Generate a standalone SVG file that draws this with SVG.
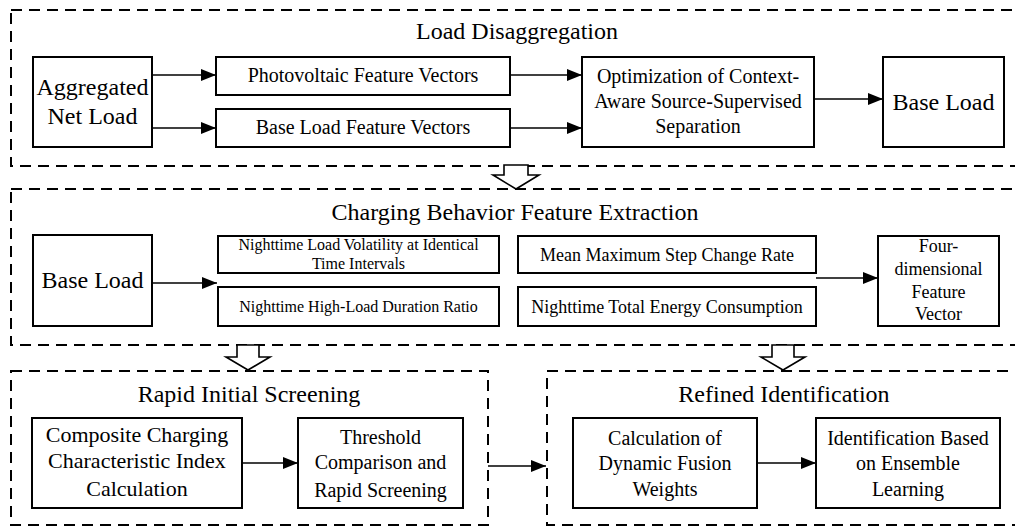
<svg xmlns="http://www.w3.org/2000/svg" width="1015" height="529" viewBox="0 0 1015 529">
<defs>
<style>
text{font-family:"Liberation Serif","Times New Roman",serif;fill:#000;text-anchor:middle}
.box{fill:#fff;stroke:#000;stroke-width:2}
.grp{fill:none;stroke:#000;stroke-width:2;stroke-dasharray:11 7}
.con{stroke:#000;stroke-width:1.6;fill:none}
.hollow{fill:#fff;stroke:#000;stroke-width:1.6;stroke-linejoin:miter}
.t24{font-size:24px}.t22{font-size:22px}.t20{font-size:20px}.t18{font-size:18px}.t16{font-size:16px}
</style>
<marker id="ah" markerWidth="15" markerHeight="12" refX="15" refY="6" orient="auto" markerUnits="userSpaceOnUse"><path d="M0,0 L15,6 L0,12 z" fill="#000"/></marker>
</defs>
<rect width="1015" height="529" fill="#fff"/>

<g id="groups">
<rect class="grp" x="11" y="10" width="1012" height="156"/>
<rect class="grp" x="11" y="189" width="1012" height="156"/>
<rect class="grp" x="11" y="371" width="477" height="154"/>
<rect class="grp" x="547" y="371" width="476" height="154"/>
<text class="t24" x="517" y="39">Load Disaggregation</text>
<text class="t24" x="515" y="220">Charging Behavior Feature Extraction</text>
<text class="t24" x="249" y="402">Rapid Initial Screening</text>
<text class="t24" x="784" y="402">Refined Identification</text>
</g>

<g id="connectors">
<line class="con" x1="152" y1="75" x2="216" y2="75" marker-end="url(#ah)"/>
<line class="con" x1="152" y1="128" x2="216" y2="128" marker-end="url(#ah)"/>
<line class="con" x1="510" y1="75" x2="582" y2="75" marker-end="url(#ah)"/>
<line class="con" x1="510" y1="128" x2="582" y2="128" marker-end="url(#ah)"/>
<line class="con" x1="814" y1="99" x2="883" y2="99" marker-end="url(#ah)"/>
<line class="con" x1="152" y1="283" x2="217" y2="283" marker-end="url(#ah)"/>
<line class="con" x1="816" y1="278" x2="878" y2="278" marker-end="url(#ah)"/>
<line class="con" x1="242" y1="463" x2="298" y2="463" marker-end="url(#ah)"/>
<line class="con" x1="488" y1="466" x2="546" y2="466" marker-end="url(#ah)"/>
<line class="con" x1="757" y1="463" x2="816" y2="463" marker-end="url(#ah)"/>
<polygon class="hollow" points="504,165 528,165 528,175 539,175 516,189 493,175 504,175"/>
<polygon class="hollow" points="237,345 259,345 259,357 270,357 248,370 226,357 237,357"/>
<polygon class="hollow" points="772,345 794,345 794,357 805,357 783,370 761,357 772,357"/>
</g>

<g id="n-aggregated">
<rect class="box" x="33" y="57" width="119" height="90"/>
<text class="t24" x="92.5" y="95">Aggregated</text>
<text class="t24" x="92.5" y="124">Net Load</text>
</g>
<g id="n-pv">
<rect class="box" x="216" y="57" width="294" height="38"/>
<text class="t20" x="363" y="82">Photovoltaic Feature Vectors</text>
</g>
<g id="n-blfv">
<rect class="box" x="216" y="109" width="294" height="38"/>
<text class="t20" x="363" y="134">Base Load Feature Vectors</text>
</g>
<g id="n-opt">
<rect class="box" x="582" y="57" width="232" height="90"/>
<text class="t20" x="698" y="83">Optimization of Context-</text>
<text class="t20" x="698" y="108">Aware Source-Supervised</text>
<text class="t20" x="698" y="133">Separation</text>
</g>
<g id="n-baseload1">
<rect class="box" x="883" y="57" width="121" height="90"/>
<text class="t24" x="943.5" y="110">Base Load</text>
</g>

<g id="n-baseload2">
<rect class="box" x="33" y="235" width="119" height="91"/>
<text class="t24" x="92.5" y="288">Base Load</text>
</g>
<g id="n-volatility">
<rect class="box" x="218" y="236" width="281" height="37"/>
<text class="t16" x="358.5" y="250">Nighttime Load Volatility at Identical</text>
<text class="t16" x="358.5" y="269">Time Intervals</text>
</g>
<g id="n-highload">
<rect class="box" x="218" y="287" width="281" height="39"/>
<text class="t16" x="358.5" y="312">Nighttime High-Load Duration Ratio</text>
</g>
<g id="n-step">
<rect class="box" x="518" y="236" width="298" height="37"/>
<text class="t18" x="667" y="261">Mean Maximum Step Change Rate</text>
</g>
<g id="n-energy">
<rect class="box" x="518" y="287" width="298" height="39"/>
<text class="t18" x="667" y="313">Nighttime Total Energy Consumption</text>
</g>
<g id="n-fourdim">
<rect class="box" x="878" y="236" width="121" height="90"/>
<text class="t18" x="938.5" y="252">Four-</text>
<text class="t18" x="938.5" y="275">dimensional</text>
<text class="t18" x="938.5" y="298">Feature</text>
<text class="t18" x="938.5" y="320">Vector</text>
</g>

<g id="n-composite">
<rect class="box" x="32" y="418" width="210" height="90"/>
<text class="t22" x="137" y="442">Composite Charging</text>
<text class="t22" x="137" y="468">Characteristic Index</text>
<text class="t22" x="137" y="496">Calculation</text>
</g>
<g id="n-threshold">
<rect class="box" x="298" y="418" width="165" height="90"/>
<text class="t20" x="380.5" y="444">Threshold</text>
<text class="t20" x="380.5" y="469">Comparison and</text>
<text class="t20" x="380.5" y="497">Rapid Screening</text>
</g>
<g id="n-fusion">
<rect class="box" x="573" y="418" width="184" height="90"/>
<text class="t20" x="665" y="445">Calculation of</text>
<text class="t20" x="665" y="470">Dynamic Fusion</text>
<text class="t20" x="665" y="496">Weights</text>
</g>
<g id="n-ensemble">
<rect class="box" x="816" y="418" width="184" height="90"/>
<text class="t20" x="908" y="445">Identification Based</text>
<text class="t20" x="908" y="470">on Ensemble</text>
<text class="t20" x="908" y="496">Learning</text>
</g>
</svg>
